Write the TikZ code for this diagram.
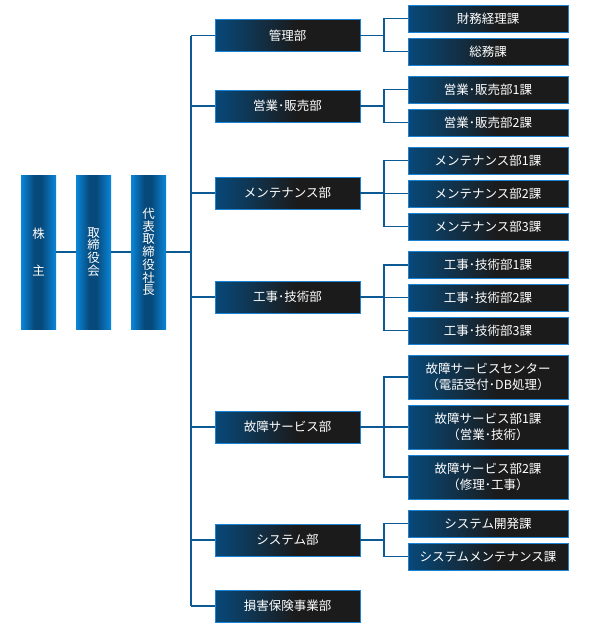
\documentclass[tikz,border=0pt]{standalone}
\usepackage{fontspec}
\newfontfamily\jp{Noto Sans CJK JP}
\definecolor{dk}{HTML}{07497A}
\definecolor{gr}{HTML}{1B1B1B}
\definecolor{br}{HTML}{0A86D9}
\definecolor{bd}{HTML}{1E82D2}
\definecolor{ln}{HTML}{0B5A93}
\pgfdeclarehorizontalshading{deptsh}{100bp}{color(0bp)=(dk); color(25bp)=(dk); color(53bp)=(gr); color(100bp)=(gr)}
\pgfdeclarehorizontalshading{tallsh}{100bp}{color(0bp)=(br); color(25bp)=(br); color(44bp)=(dk); color(54bp)=(dk); color(75bp)=(br); color(100bp)=(br)}
\tikzset{
  box/.style={shading=deptsh, draw=bd, line width=1pt, text=white, inner sep=0pt, outer sep=0pt,
    align=center, font=\jp\fontsize{12.5}{16.5}\selectfont},
  dept/.style={box, minimum width=145pt, minimum height=32pt},
  sect/.style={box, minimum width=160pt, minimum height=27pt},
  sect2/.style={box, minimum width=160pt, minimum height=44pt},
  tall/.style={shading=tallsh, text=white, inner sep=0pt, outer sep=0pt, minimum width=35pt,
    minimum height=154pt, align=center, font=\jp\fontsize{12.5}{12.7}\selectfont},
  conn/.style={draw=ln, line width=1.4pt, line join=miter}
}
\begin{document}
\begin{tikzpicture}[x=1pt,y=-1pt]
\useasboundingbox (0,0) rectangle (590,630);
% tall boxes
\node[tall] (kabu) at (38.5,252) {株\\[24.3pt]主};
\node[tall] (tori) at (93.5,252) {取\\締\\役\\会};
\node[tall] (pres) at (148.5,252) {代\\表\\取\\締\\役\\社\\長};
% departments
\node[dept] (kanri) at (287.5,35.5) {管理部};
\node[dept] (eigyo) at (287.5,106) {営業･販売部};
\node[dept] (maint) at (287.5,193) {メンテナンス部};
\node[dept] (koji) at (287.5,297) {工事･技術部};
\node[dept] (kosho) at (287.5,427) {故障サービス部};
\node[dept] (sys) at (287.5,540) {システム部};
\node[dept] (songai) at (287.5,606) {損害保険事業部};
% sections
\node[sect] (zaimu) at (488,18.5) {財務経理課};
\node[sect] (somu) at (488,51.5) {総務課};
\node[sect] (eg1) at (488,89.5) {営業･販売部1課};
\node[sect] (eg2) at (488,122.5) {営業･販売部2課};
\node[sect] (mt1) at (488,160.5) {メンテナンス部1課};
\node[sect] (mt2) at (488,193.5) {メンテナンス部2課};
\node[sect] (mt3) at (488,226.5) {メンテナンス部3課};
\node[sect] (kj1) at (488,265) {工事･技術部1課};
\node[sect] (kj2) at (488,297.5) {工事･技術部2課};
\node[sect] (kj3) at (488,330.5) {工事･技術部3課};
\node[sect2] (ks1) at (488,377) {故障サービスセンター\\（電話受付･DB処理）};
\node[sect2] (ks2) at (488,427) {故障サービス部1課\\（営業･技術）};
\node[sect2] (ks3) at (488,477) {故障サービス部2課\\（修理･工事）};
\node[sect] (sy1) at (488,523.5) {システム開発課};
\node[sect] (sy2) at (488,556.5) {システムメンテナンス課};
% connectors
\coordinate (tx) at (191,0);
\coordinate (bx) at (384,0);
\draw[conn] (kabu) -- (tori);
\draw[conn] (tori) -- (pres);
\draw[conn] (pres.east) -- (pres.east -| tx);
\draw[conn] (kanri.west -| tx) -- (songai.west -| tx);
\foreach \d in {kanri,eigyo,maint,koji,kosho,sys,songai}{
  \draw[conn] (\d.west -| tx) -- (\d.west);
}
\foreach \d/\s in {kanri/zaimu,kanri/somu,eigyo/eg1,eigyo/eg2,maint/mt1,maint/mt2,maint/mt3,
  koji/kj1,koji/kj2,koji/kj3,kosho/ks1,kosho/ks2,kosho/ks3,sys/sy1,sys/sy2}{
  \draw[conn] (\d.east) -- (\d.east -| bx) |- (\s.west);
}
\end{tikzpicture}
\end{document}
